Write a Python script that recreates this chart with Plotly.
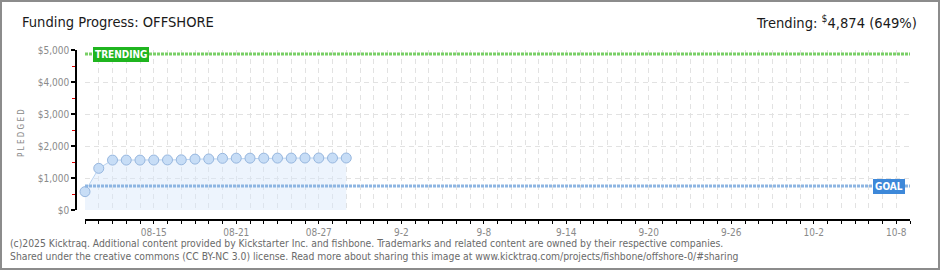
import pandas as pd
import plotly.graph_objects as go

# ---- data ----
dates = ['2025-08-10', '2025-08-11', '2025-08-12', '2025-08-13', '2025-08-14',
         '2025-08-15', '2025-08-16', '2025-08-17', '2025-08-18', '2025-08-19',
         '2025-08-20', '2025-08-21', '2025-08-22', '2025-08-23', '2025-08-24',
         '2025-08-25', '2025-08-26', '2025-08-27', '2025-08-28', '2025-08-29']
pledged = [573, 1302, 1560, 1560, 1560, 1562, 1565, 1568, 1590, 1595,
           1615, 1620, 1620, 1620, 1622, 1622, 1625, 1625, 1625, 1625]
goal = 750
trending = 4874
trending_pct = 649
x_range = ['2025-08-10', '2025-10-09']
tick_dates = ['2025-08-15', '2025-08-21', '2025-08-27', '2025-09-02', '2025-09-08',
              '2025-09-14', '2025-09-20', '2025-09-26', '2025-10-02', '2025-10-08']
tick_labels = ['08-15', '08-21', '08-27', '9-2', '9-8', '9-14', '9-20', '9-26', '10-2', '10-8']
y_ticks = [0, 1000, 2000, 3000, 4000, 5000]
y_labels = ['$0', '$1,000', '$2,000', '$3,000', '$4,000', '$5,000']
title_text = 'Funding Progress: OFFSHORE'
footer_lines = [
    '(c)2025 Kicktraq. Additional content provided by Kickstarter Inc. and fishbone. Trademarks and related content are owned by their respective companies.',
    'Shared under the creative commons (CC BY-NC 3.0) license. Read more about sharing this image at www.kicktraq.com/projects/fishbone/offshore-0/#sharing',
]

# daily ticks; only some carry a label
day_ticks = [d.strftime('%Y-%m-%d') for d in pd.date_range(x_range[0], x_range[1], freq='D')]
label_map = dict(zip(tick_dates, tick_labels))
day_text = [label_map.get(d, '') for d in day_ticks]

W, H = 940, 270
ML, MR, MT, MB = 76, 30, 50, 50
PW, PH = W - ML - MR, H - MT - MB
XOFF = 9 / PW           # plot begins 9px right of the y-axis line
YOFF = 10 / PH          # plot ends 10px above the x-axis line

COND = '"DejaVu Sans Condensed", "DejaVu Sans", sans-serif'
GRID = '#e2e2e2'
GDASH = '5px,4px'
TICKFONT = dict(family=COND, size=10, color='#8a8a8a')

fig = go.Figure()
fig.add_trace(go.Scatter(
    x=dates, y=pledged, mode='lines+markers',
    fill='tozeroy', fillcolor='rgba(214,230,250,0.45)',
    line=dict(color='#b9d3f0', width=1),
    marker=dict(size=10, color='#c7ddf6', line=dict(color='#97b7df', width=1)),
    cliponaxis=False,
    hoverinfo='skip', showlegend=False,
))

# reference lines (trending / goal)
fig.add_shape(type='line', xref='paper', yref='y', x0=XOFF, x1=1, y0=trending, y1=trending,
              line=dict(color='#79cf66', width=3, dash='3px,1px'), layer='above')
fig.add_shape(type='line', xref='paper', yref='y', x0=XOFF, x1=1, y0=goal, y1=goal,
              line=dict(color='#8db5e2', width=3, dash='3px,1px'), layer='above')

# frame border
fig.add_shape(type='rect', xref='paper', yref='paper',
              x0=(1 - ML) / PW, x1=(W - 1 - ML) / PW,
              y0=-(MB - 1) / PH, y1=(H - 1 - MB) / PH,
              line=dict(color='#8c8c8c', width=2), fillcolor='rgba(0,0,0,0)')

fig.update_layout(
    width=W, height=H,
    margin=dict(l=ML, r=MR, t=MT, b=MB, pad=0),
    paper_bgcolor='white', plot_bgcolor='white',
    showlegend=False,
    xaxis=dict(
        type='date', range=x_range, domain=[XOFF, 1],
        anchor='free', position=0,
        showline=True, linecolor='#000', linewidth=1.5,
        tickmode='array', tickvals=day_ticks, ticktext=day_text,
        ticks='outside', ticklen=3, tickcolor='#000', tickwidth=1,
        tickfont=TICKFONT,
        showgrid=True, gridcolor=GRID, griddash=GDASH, gridwidth=1,
        zeroline=False, fixedrange=True,
    ),
    yaxis=dict(
        range=[0, 5000], domain=[YOFF, 1],
        anchor='free', position=0,
        showline=True, linecolor='#000', linewidth=1.5,
        tickmode='array', tickvals=y_ticks, ticktext=y_labels,
        ticks='outside', ticklen=4, tickcolor='#000', tickwidth=1.5,
        tickfont=TICKFONT,
        showgrid=True, gridcolor=GRID, griddash=GDASH, gridwidth=1,
        minor=dict(dtick=500, ticks='outside', ticklen=3, tickcolor='#e00000',
                   tickwidth=1, showgrid=False),
        zeroline=False, fixedrange=True,
    ),
)

ann = []
ann.append(dict(text=title_text, xref='paper', yref='paper',
                x=(20 - ML) / PW, y=(H - 22 - MB) / PH, xanchor='left', yanchor='middle',
                showarrow=False, font=dict(family=COND, size=14.6, color='#1a1a1a')))
ann.append(dict(text='Trending: <sup>$</sup>{:,} ({}%)'.format(trending, trending_pct),
                xref='paper', yref='paper',
                x=(919 - ML) / PW, y=(H - 22 - MB) / PH, xanchor='right', yanchor='middle',
                showarrow=False, font=dict(family=COND, size=14.6, color='#1a1a1a')))
ann.append(dict(text='P L E D G E D', xref='paper', yref='paper', textangle=-90,
                x=(21 - ML) / PW, y=(H - 133 - MB) / PH, xanchor='center', yanchor='middle',
                showarrow=False, font=dict(family=COND, size=8, color='#8a8a8a')))
for i, line in enumerate(footer_lines):
    ann.append(dict(text=line, xref='paper', yref='paper',
                    x=(8 - ML) / PW, y=(H - (243 + 13 * i) - MB) / PH,
                    xanchor='left', yanchor='middle', showarrow=False,
                    font=dict(family=COND, size=10.3, color='#6a6a6a')))
ann.append(dict(text='<b>TRENDING</b>', xref='paper', yref='y', x=XOFF, xshift=8, y=trending,
                xanchor='left', yanchor='middle', showarrow=False,
                bgcolor='#1fb51f', bordercolor='#1fb51f', borderpad=1,
                font=dict(family=COND, size=10, color='white')))
ann.append(dict(text='<b>GOAL</b>', xref='paper', yref='y', x=1, xshift=-5, y=goal,
                xanchor='right', yanchor='middle', showarrow=False,
                bgcolor='#3d88d9', bordercolor='#3d88d9', borderpad=1,
                font=dict(family=COND, size=10, color='white')))
fig.update_layout(annotations=ann)

fig.write_html('out.html')
